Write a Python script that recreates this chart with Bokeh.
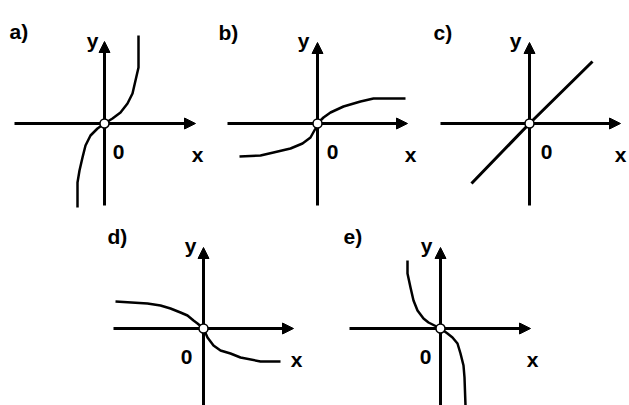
from bokeh.plotting import figure
from bokeh.models import Range1d, Arrow, NormalHead
from bokeh.core.properties import value
from bokeh.embed import file_html
from bokeh.resources import INLINE

# ---- data (local units, origin of each sketch = 0,0, y up) ----
panel_labels = ["a)", "b)", "c)", "d)", "e)"]
axis_x_label = "x"
axis_y_label = "y"
origin_label = "0"

curve_a_x = [-27, -27, -25, -22, -19, -14, -7, 0, 8, 16, 23, 28, 31, 34, 34]
curve_a_y = [-84, -59, -47, -34, -22, -12, -5, 0, 5, 11, 20, 30, 43, 56, 88]

curve_b_x = [-78, -57, -44, -27, -15, -7, -2, 0, 6, 13, 26, 43, 56, 88]
curve_b_y = [-33, -32, -29, -25, -20, -14, -5, 0, 6, 11, 17, 22, 25, 25]

curve_c_x = [-58, 0, 63]
curve_c_y = [-60, 0, 62]

curve_d_x = [-88, -56, -43, -33, -23, -16, -10, -6, 0, 4, 10, 17, 27, 37, 57, 77]
curve_d_y = [27, 25, 23, 20, 16, 13, 8, 5, 0, -9, -17, -22, -25, -29, -33, -33]

curve_e_x = [-33, -33, -30, -27, -23, -17, -12, 0, 7, 12, 17, 20, 23, 24, 25]
curve_e_y = [68, 55, 41, 28, 18, 10, 6, 0, -5, -9, -15, -25, -37, -49, -77]

curves_x = [curve_a_x, curve_b_x, curve_c_x, curve_d_x, curve_e_x]
curves_y = [curve_a_y, curve_b_y, curve_c_y, curve_d_y, curve_e_y]

# ---- layout (page pixel positions of each sketch) ----
origins = [(104, 123), (317, 123), (529, 123), (203, 328), (440, 328)]
axis_left = [90, 90, 89, 90, 91]
axis_right = [91, 90, 91, 90, 90]
axis_down = [82, 82, 82, 80, 80]
axis_up = [82, 81, 81, 81, 81]
curve_width = [2.5, 2.5, 3, 2.5, 2.5]
label_pos = [(9, 31), (218, 32), (433, 32), (107, 236), (343, 236)]
y_lab_dx = [-12, -14, -14, -13, -14]
zero_dx = [14, 15, 17, -17, -15]
x_lab_dx = [93, 93, 91, 93, 92]

W, H = 629, 405
p = figure(width=W, height=H, output_backend="svg", toolbar_location=None,
           x_range=Range1d(0, W), y_range=Range1d(H, 0),
           min_border=0)
p.axis.visible = False
p.grid.visible = False
p.outline_line_color = None
p.background_fill_color = "white"
p.border_fill_color = "white"

font = value("Liberation Sans")
fs = "21px"

for i, (ox, oy) in enumerate(origins):
    # axes with arrows
    p.segment(x0=[ox - axis_left[i]], y0=[oy], x1=[ox + axis_right[i] - 6], y1=[oy],
              line_width=3, line_color="black")
    p.segment(x0=[ox], y0=[oy + axis_down[i]], x1=[ox], y1=[oy - axis_up[i] + 6],
              line_width=3, line_color="black")
    p.add_layout(Arrow(end=NormalHead(size=11, fill_color="black", line_color="black", line_width=1),
                       x_start=ox + axis_right[i] - 8, y_start=oy,
                       x_end=ox + axis_right[i], y_end=oy, line_width=0, line_alpha=0))
    p.add_layout(Arrow(end=NormalHead(size=11, fill_color="black", line_color="black", line_width=1),
                       x_start=ox, y_start=oy - axis_up[i] + 8,
                       x_end=ox, y_end=oy - axis_up[i], line_width=0, line_alpha=0))
    # curve
    cx = [ox + v for v in curves_x[i]]
    cy = [oy - v for v in curves_y[i]]
    p.line(cx, cy, line_width=curve_width[i], line_color="black", line_join="round", line_cap="butt")
    # origin marker
    p.scatter([ox], [oy], size=9, fill_color="white", line_color="black", line_width=1.5)
    # texts
    p.text(x=[label_pos[i][0]], y=[label_pos[i][1]], text=[panel_labels[i]],
           text_font=font, text_font_style="bold", text_font_size=fs,
           text_align="left", text_baseline="alphabetic", text_color="black")
    p.text(x=[ox + y_lab_dx[i]], y=[oy - 83], text=[axis_y_label],
           text_font=font, text_font_style="bold", text_font_size=fs,
           text_align="center", text_baseline="alphabetic", text_color="black")
    p.text(x=[ox + zero_dx[i]], y=[oy + 28], text=[origin_label],
           text_font=font, text_font_style="bold", text_font_size=fs,
           text_align="center", text_baseline="alphabetic", text_color="black")
    p.text(x=[ox + x_lab_dx[i]], y=[oy + 31], text=[axis_x_label],
           text_font=font, text_font_style="bold", text_font_size=fs,
           text_align="center", text_baseline="alphabetic", text_color="black")

open("out.html", "w").write(file_html(p, INLINE))
